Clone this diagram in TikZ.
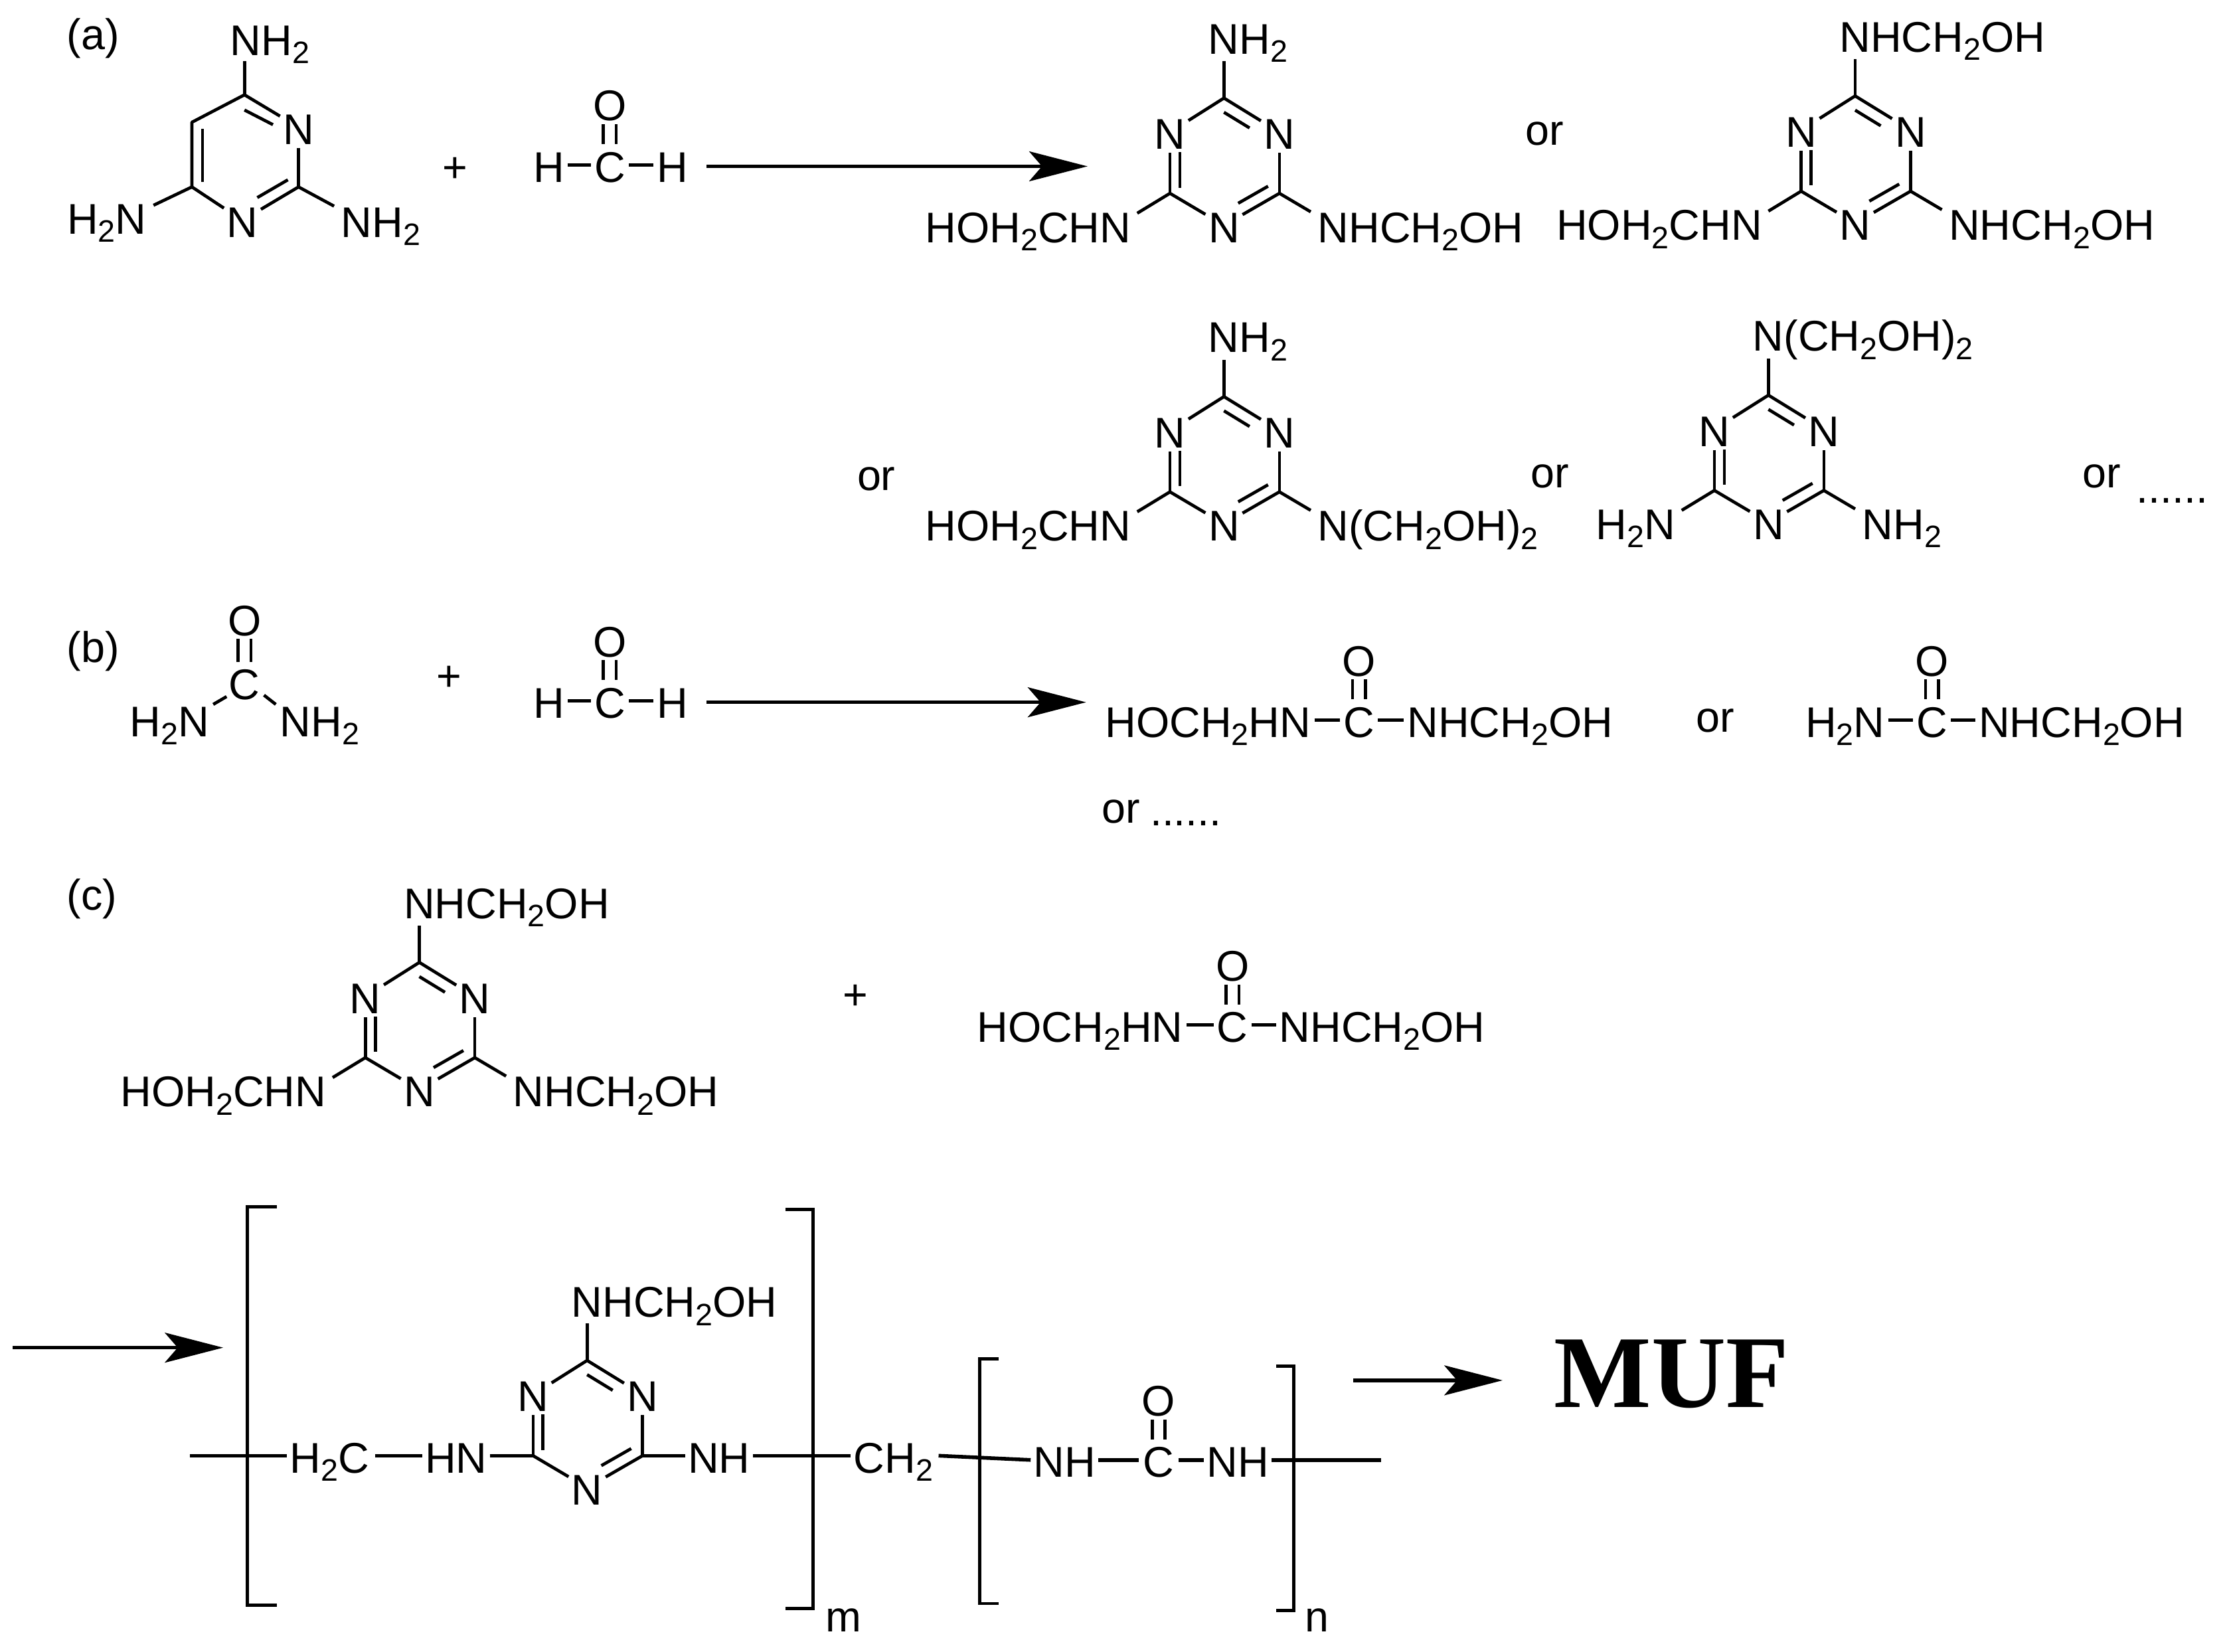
\documentclass[tikz,border=0pt]{standalone}
\usepackage{fontspec}
\setmainfont{Liberation Sans}
\newfontfamily\muffont{Liberation Serif}
\usetikzlibrary{arrows.meta}
\newcommand\sbt[1]{\raisebox{-5.8pt}{\fontsize{21.8}{22}\selectfont #1}}
\tikzset{
  lab/.style={inner sep=0pt,outer sep=0pt,text height=24pt,text depth=0pt,font=\fontsize{30.2}{34}\selectfont},
  atom/.style={lab,anchor=base},
  lw/.style={lab,anchor=base west},
  le/.style={lab,anchor=base east},
  bond/.style={line width=2.2pt,black},
  hb/.style={bond,shorten <=2.5pt,shorten >=2.5pt},
  dl/.style={hb,transform canvas={xshift=-4.5pt}},
  dr/.style={hb,transform canvas={xshift=4.5pt}},
  rxn/.style={line width=2.6pt,-{Stealth[length=41pt,width=21pt,inset=9pt]}},
  chainbond/.style={line width=2.6pt,black},
  brk/.style={line width=2.3pt,black,line cap=butt,line join=miter},
}
% triazine ring: name, x and y of the upper carbon
\newcommand\triring[3]{%
  \begin{scope}[shift={(#2,#3)},name prefix=#1-]
    \coordinate (top) at (0,0);
    \coordinate (cl) at (-38,67);
    \coordinate (cr) at (39,67);
    \node[atom] (nl) at (-38,36) {N};
    \node[atom] (nr) at (39,36) {N};
    \node[atom] (nb) at (0,101.5) {N};
    \coordinate (i1a) at (0,10);
    \coordinate (i1b) at (18,21);
    \coordinate (i2a) at (-31,38);
    \coordinate (i2b) at (-31,63);
    \coordinate (i3a) at (31,62);
    \coordinate (i3b) at (10,74);
    \draw[bond,shorten >=2.5pt] (top) -- (nl);
    \draw[bond,shorten >=2.5pt] (top) -- (nr);
    \draw[bond,shorten <=2.5pt] (nl) -- (cl);
    \draw[bond,shorten <=2.5pt] (nr) -- (cr);
    \draw[bond,shorten >=2.5pt] (cl) -- (nb);
    \draw[bond,shorten >=2.5pt] (cr) -- (nb);
    \draw[bond] (i1a) -- (i1b);
    \draw[bond] (i2a) -- (i2b);
    \draw[bond] (i3a) -- (i3b);
  \end{scope}}
% whole triazine: name, x, y, top text, left text, right text
\newcommand\triazine[6]{%
  \triring{#1}{#2}{#3}%
  \begin{scope}[shift={(#2,#3)},name prefix=#1-]
    \node[lw] (ts) at (-11,-31) {#4};
    \node[le] (ls) at (-65.5,101.5) {#5};
    \node[lw] (rs) at (66,101.5) {#6};
    \coordinate (tb) at (0,-26);
    \coordinate (lb) at (-61,81);
    \coordinate (rb) at (61,80);
    \draw[bond] (top) -- (tb);
    \draw[bond] (cl) -- (lb);
    \draw[bond] (cr) -- (rb);
  \end{scope}}
% formaldehyde: name, x of carbon, baseline of H and C
\newcommand\formald[3]{%
  \begin{scope}[shift={(#2,#3)},name prefix=#1-]
    \node[atom] (c) at (0,0) {C};
    \node[atom] (o) at (0,-43) {O};
    \node[atom] (hl) at (-43,0) {H};
    \node[atom] (hr) at (44,0) {H};
    \draw[hb] (hl) -- (c);
    \draw[hb] (c) -- (hr);
    \draw[dl] (o) -- (c);
    \draw[dr] (o) -- (c);
  \end{scope}}
\newcommand\chainc[3]{%
  \node[atom] (#1-c) at (#2,#3) {C};
  \node[atom] (#1-o) at (#2,#3-43) {O};
  \draw[dl] (#1-o) -- (#1-c);
  \draw[dr] (#1-o) -- (#1-c);}
\begin{document}
\begin{tikzpicture}[x=1pt,y=-1pt]
\fill[white] (0,0) rectangle (1568,1162);
\useasboundingbox (0,0) rectangle (1568,1162);
% ---------- (a)
\node[lw] (la) at (47,35) {(a)};
\coordinate (p-top) at (172,66.7);
\coordinate (p-lu) at (135,86);
\coordinate (p-ld) at (135,131.5);
\coordinate (p-cr) at (210,131.5);
\node[atom] (p-nr) at (210,101.5) {N};
\node[atom] (p-nb) at (170.5,167) {N};
\node[lw] (p-ts) at (162,39) {NH\sbt{2}};
\node[le] (p-ls) at (103,164.5) {H\sbt{2}N};
\node[lw] (p-rs) at (240,167) {NH\sbt{2}};
\coordinate (p-tb) at (172,43);
\coordinate (p-lb) at (108,144.4);
\coordinate (p-rb) at (235,145);
\coordinate (p-i1a) at (142.5,90.7);
\coordinate (p-i1b) at (142.5,128);
\coordinate (p-i2a) at (172,77.4);
\coordinate (p-i2b) at (192,87.7);
\coordinate (p-i3a) at (202.5,126.5);
\coordinate (p-i3b) at (181,139);
\draw[bond,line join=round] (p-top) -- (p-lu) -- (p-ld);
\draw[bond,shorten >=2.5pt] (p-top) -- (p-nr);
\draw[bond,shorten <=2.5pt] (p-nr) -- (p-cr);
\draw[bond,shorten >=2.5pt] (p-ld) -- (p-nb);
\draw[bond,shorten >=2.5pt] (p-cr) -- (p-nb);
\draw[bond] (p-top) -- (p-tb);
\draw[bond] (p-ld) -- (p-lb);
\draw[bond] (p-cr) -- (p-rb);
\draw[bond] (p-i1a) -- (p-i1b);
\draw[bond] (p-i2a) -- (p-i2b);
\draw[bond] (p-i3a) -- (p-i3b);
\node[atom] (plusa) at (320,128) {+};
\formald{fa}{429}{128}
\coordinate (a1s) at (497,117);
\coordinate (a1e) at (765,117);
\draw[rxn] (a1s) -- (a1e);
\triazine{t1}{861}{69}{NH\sbt{2}}{HOH\sbt{2}CHN}{NHCH\sbt{2}OH}
\node[lw] (or1) at (1073,102) {or};
\triazine{t2}{1305}{67.5}{NHCH\sbt{2}OH}{HOH\sbt{2}CHN}{NHCH\sbt{2}OH}
\node[lw] (or2) at (603,345) {or};
\triazine{t3}{861}{279}{NH\sbt{2}}{HOH\sbt{2}CHN}{N(CH\sbt{2}OH)\sbt{2}}
\node[lw] (or3) at (1077,343) {or};
\triazine{t4}{1244}{278}{N(CH\sbt{2}OH)\sbt{2}}{H\sbt{2}N}{NH\sbt{2}}
\node[lw] (or4) at (1465,343) {or};
\node[lw] (dots1) at (1503,354) {......};
% ---------- (b)
\node[lw] (lb) at (47,466) {(b)};
\node[atom] (u-c) at (172,492) {C};
\node[atom] (u-o) at (172,447) {O};
\draw[dl] (u-o) -- (u-c);
\draw[dr] (u-o) -- (u-c);
\node[le] (u-l) at (147,518) {H\sbt{2}N};
\node[lw] (u-r) at (197,518) {NH\sbt{2}};
\coordinate (u-la) at (159.4,490);
\coordinate (u-lb) at (150,495.5);
\coordinate (u-ra) at (185.7,489);
\coordinate (u-rb) at (194,495.5);
\draw[bond] (u-la) -- (u-lb);
\draw[bond] (u-ra) -- (u-rb);
\node[atom] (plusb) at (316,486) {+};
\formald{fb}{429}{505}
\coordinate (a2s) at (497,494);
\coordinate (a2e) at (764,494);
\draw[rxn] (a2s) -- (a2e);
\node[lw] (pb-l) at (777.5,518.5) {HOCH\sbt{2}HN};
\chainc{pb}{956}{518.5}
\node[lw] (pb-r) at (990,518.5) {NHCH\sbt{2}OH};
\draw[hb] (pb-l) -- (pb-c);
\draw[hb] (pb-c) -- (pb-r);
\node[lw] (or5) at (1193,515) {or};
\node[lw] (pc-l) at (1270,518.5) {H\sbt{2}N};
\chainc{pc}{1359}{518.5}
\node[lw] (pc-r) at (1392,518.5) {NHCH\sbt{2}OH};
\draw[hb] (pc-l) -- (pc-c);
\draw[hb] (pc-c) -- (pc-r);
\node[lw] (or6) at (775,579) {or};
\node[lw] (dots2) at (809,581) {......};
% ---------- (c)
\node[lw] (lc) at (47,640) {(c)};
\triazine{t5}{295}{677}{NHCH\sbt{2}OH}{HOH\sbt{2}CHN}{NHCH\sbt{2}OH}
\node[atom] (plusc) at (602,710) {+};
\node[lw] (pd-l) at (687.5,733) {HOCH\sbt{2}HN};
\chainc{pd}{867}{733}
\node[lw] (pd-r) at (900,733) {NHCH\sbt{2}OH};
\draw[hb] (pd-l) -- (pd-c);
\draw[hb] (pd-c) -- (pd-r);
% ---------- polymer
\coordinate (a3s) at (9,948);
\coordinate (a3e) at (157,948);
\draw[rxn] (a3s) -- (a3e);
\draw[brk] (194.6,849) -- (174,849) -- (174,1129) -- (194.6,1129);
\draw[brk] (552.6,850.7) -- (572,850.7) -- (572,1131.6) -- (552.6,1131.6);
\draw[brk] (702.5,956) -- (689,956) -- (689,1128) -- (702.5,1128);
\draw[brk] (897.6,961) -- (910,961) -- (910,1133) -- (897.6,1133);
\node[lw] (m) at (581,1148) {m};
\node[lw] (n) at (918,1148) {n};
\coordinate (s-l) at (133.5,1024);
\node[lw] (h2c) at (204,1036) {H\sbt{2}C};
\node[lw] (hn1) at (299,1036) {HN};
\triring{t6}{413}{957}
\node[lw] (t6top) at (402,926.6) {NHCH\sbt{2}OH};
\coordinate (t6tb) at (413,931);
\draw[bond] (t6-top) -- (t6tb);
\node[lw] (nh1) at (484,1036) {NH};
\node[lw] (ch2) at (600.5,1036) {CH\sbt{2}};
\node[lw] (nh2) at (727,1039) {NH};
\chainc{pe}{815}{1039}
\node[lw] (nh3) at (849,1039) {NH};
\coordinate (s-r) at (971.4,1027);
\draw[chainbond] (s-l) -- ([xshift=-2pt]h2c.west);
\draw[chainbond] ([xshift=4pt]h2c.east) -- ([xshift=-2pt]hn1.west);
\draw[chainbond] ([xshift=2pt]hn1.east) -- (t6-cl);
\draw[chainbond] (t6-cr) -- ([xshift=-2pt]nh1.west);
\draw[chainbond] ([xshift=2pt]nh1.east) -- ([xshift=-2pt]ch2.west);
\draw[chainbond] ([xshift=4pt]ch2.east) -- ([xshift=-2pt]nh2.west);
\draw[chainbond] ([xshift=2pt]nh2.east) -- ([xshift=-3pt]pe-c.west);
\draw[chainbond] ([xshift=3pt]pe-c.east) -- ([xshift=-2pt]nh3.west);
\draw[chainbond] ([xshift=2pt]nh3.east) -- (s-r);
\coordinate (a4s) at (952,971);
\coordinate (a4e) at (1057,971);
\draw[rxn] (a4s) -- (a4e);
\node[inner sep=0pt,anchor=base west] (muf) at (1093,990) {\fontsize{72.5}{80}\selectfont\muffont\bfseries MUF};
\end{tikzpicture}
\end{document}
